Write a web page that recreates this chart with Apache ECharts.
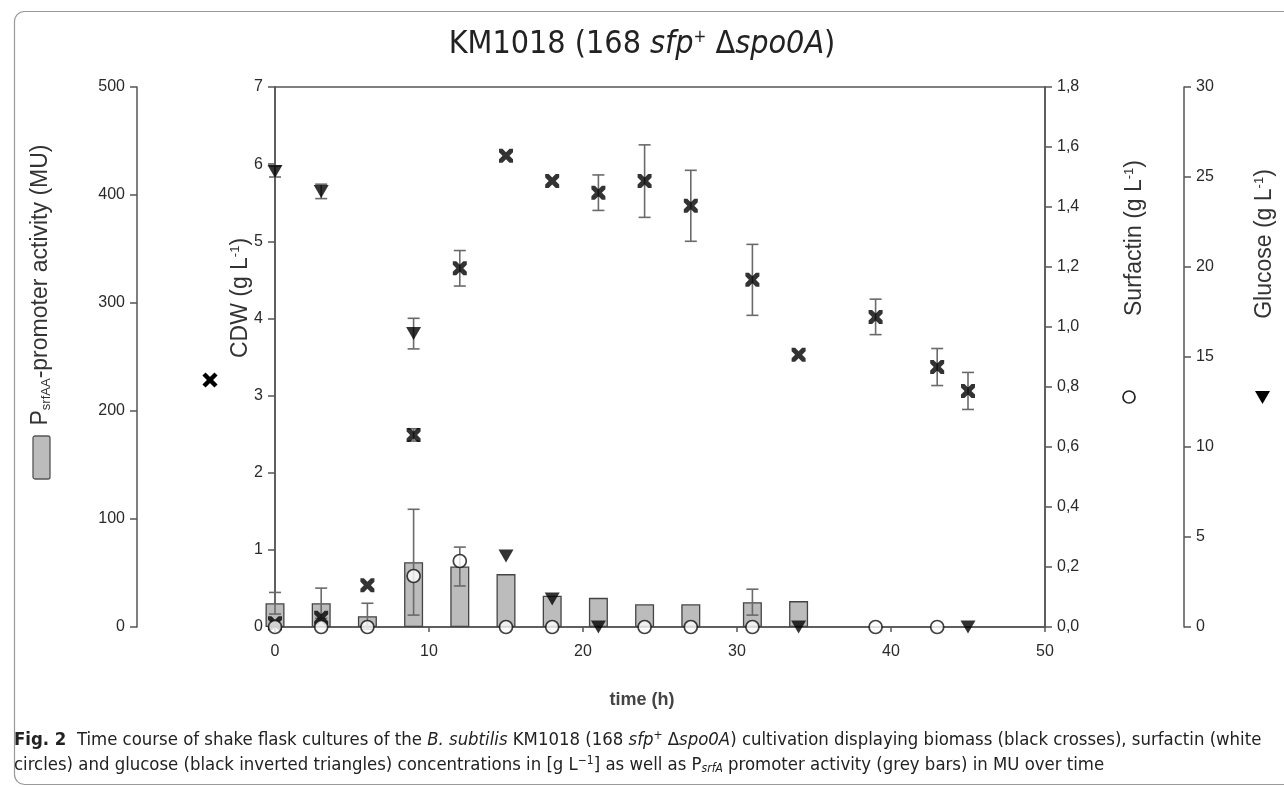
<!DOCTYPE html>
<html>
<head>
<meta charset="utf-8">
<script src="https://cdn.jsdelivr.net/npm/echarts@6/dist/echarts.min.js"></script>
<style>
  html, body { margin: 0; padding: 0; background: #fff; }
  #chart { width: 1284px; height: 787px; }
</style>
</head>
<body>
<div id="chart"></div>
<script>
// time axis ticks
var timeTicks = [0, 10, 20, 30, 40, 50];

// P_srfA promoter activity (MU), grey bars
var barTime = [0, 3, 6, 9, 12, 15, 18, 21, 24, 27, 31, 34];
var barMU   = [22, 22, 10, 60, 56, 49, 29, 27, 21, 21, 23, 24];
var barErr  = [10, 14, 12, 49, 18, 0, 0, 0, 0, 0, 12, 0];

// CDW (g/L), black crosses
var cdwTime = [0, 3, 6, 9, 12, 15, 18, 21, 24, 27, 31, 34, 39, 43, 45];
var cdwVal  = [0.05, 0.12, 0.54, 2.49, 4.65, 6.11, 5.78, 5.63, 5.78, 5.46, 4.50, 3.53, 4.02, 3.37, 3.06];
var cdwErr  = [0, 0, 0, 0.08, 0.23, 0, 0, 0.23, 0.47, 0.46, 0.46, 0, 0.23, 0.24, 0.24];

// glucose (g/L), black inverted triangles
var gluTime = [0, 3, 9, 15, 18, 21, 34, 45];
var gluVal  = [25.3, 24.2, 16.3, 3.95, 1.55, 0, 0, 0];
var gluErr  = [0.3, 0.4, 0.85, 0, 0, 0, 0, 0];

// surfactin (g/L), white circles
var surTime = [0, 3, 6, 9, 12, 15, 18, 24, 27, 31, 39, 43];
var surVal  = [0, 0, 0, 0.17, 0.22, 0, 0, 0, 0, 0, 0, 0];

function pairs(t, v) {
  var out = [];
  for (var i = 0; i < t.length; i++) out.push([t[i], v[i]]);
  return out;
}
function errs(t, v, e) {
  var out = [];
  for (var i = 0; i < t.length; i++) {
    if (e[i] > 0) out.push([t[i], v[i] - e[i], v[i] + e[i]]);
  }
  return out;
}
function errRender(params, api) {
  var x = api.value(0);
  var lo = api.coord([x, api.value(1)]);
  var hi = api.coord([x, api.value(2)]);
  var w = 6;
  var st = { stroke: '#6a6a6a', lineWidth: 1.6 };
  return {
    type: 'group',
    children: [
      { type: 'line', shape: { x1: lo[0], y1: lo[1], x2: hi[0], y2: hi[1] }, style: st },
      { type: 'line', shape: { x1: lo[0] - w, y1: lo[1], x2: lo[0] + w, y2: lo[1] }, style: st },
      { type: 'line', shape: { x1: hi[0] - w, y1: hi[1], x2: hi[0] + w, y2: hi[1] }, style: st }
    ]
  };
}

var crossPath = 'path://M0,0 L5,0 L10,5 L15,0 L20,0 L20,5 L15,10 L20,15 L20,20 L15,20 L10,15 L5,20 L0,20 L0,15 L5,10 L0,5 Z';
var sans = 'Liberation Sans, Arial, sans-serif';
var narrow = 'Liberation Sans Narrow, DejaVu Sans Condensed, sans-serif';
var labelStyle = { color: '#2a2a2a', fontSize: 16, fontFamily: sans };
var titleRich = {
  a: { fontFamily: sans, fontSize: 23, fill: '#333' },
  s: { fontFamily: sans, fontSize: 13, fill: '#333', padding: [0, 0, 12, 0] },
  b: { fontFamily: sans, fontSize: 13, fill: '#333', padding: [10, 0, 0, 0] }
};

function yAxisBase(pos, offset, min, max, interval, fmt) {
  return {
    type: 'value', position: pos, offset: offset,
    min: min, max: max, interval: interval,
    splitLine: { show: false },
    axisLine: { show: true, lineStyle: { color: '#555', width: 1.5 } },
    axisTick: { show: true, inside: false, length: 7, lineStyle: { color: '#555', width: 1.5 } },
    axisLabel: Object.assign({ margin: 12, formatter: fmt }, labelStyle)
  };
}

var chart = echarts.init(document.getElementById('chart'));
var option = {
  backgroundColor: '#fff',
  animation: false,
  title: {
    text: '{a|KM1018 (168 }{i|sfp}{s|+}{a| Δ}{i|spo0A}{a|)}',
    left: 'center', top: 24,
    textStyle: {
      rich: {
        a: { fontFamily: narrow, fontSize: 32, fontWeight: 'normal', color: '#222' },
        i: { fontFamily: narrow, fontSize: 32, fontWeight: 'normal', fontStyle: 'italic', color: '#222' },
        s: { fontFamily: narrow, fontSize: 17, fontWeight: 'normal', color: '#222', padding: [0, 0, 15, 0] }
      }
    }
  },
  grid: { left: 275, right: 239, top: 87, bottom: 160, show: true, borderColor: '#555', borderWidth: 1.5, backgroundColor: '#fff' },
  xAxis: {
    type: 'value', min: timeTicks[0], max: timeTicks[timeTicks.length - 1], interval: 10,
    splitLine: { show: false },
    axisLine: { show: true, onZero: false, lineStyle: { color: '#555', width: 1.5 } },
    axisTick: { show: true, length: 5, lineStyle: { color: '#555', width: 1.5 } },
    axisLabel: Object.assign({ margin: 17 }, labelStyle)
  },
  yAxis: [
    yAxisBase('left', 0, 0, 7, 1),
    yAxisBase('left', 138, 0, 500, 100),
    yAxisBase('right', 0, 0, 1.8, 0.2, function (v) { return v.toFixed(1).replace('.', ','); }),
    yAxisBase('right', 139, 0, 30, 5)
  ],
  series: [
    {
      type: 'bar', yAxisIndex: 1, barWidth: 19, z: 1, clip: true,
      data: pairs(barTime, barMU),
      itemStyle: { color: '#bcbcbc', borderColor: '#444', borderWidth: 1.3 }
    },
    { type: 'custom', yAxisIndex: 1, z: 2, renderItem: errRender, data: errs(barTime, barMU, barErr) },
    { type: 'custom', yAxisIndex: 0, z: 3, renderItem: errRender, data: errs(cdwTime, cdwVal, cdwErr) },
    { type: 'custom', yAxisIndex: 3, z: 3, renderItem: errRender, data: errs(gluTime, gluVal, gluErr) },
    {
      type: 'scatter', yAxisIndex: 0, z: 4, symbol: crossPath, symbolSize: 14,
      itemStyle: { color: '#000' }, data: pairs(cdwTime, cdwVal)
    },
    {
      type: 'scatter', yAxisIndex: 3, z: 5, symbol: 'triangle', symbolRotate: 180, symbolSize: [15, 13],
      itemStyle: { color: '#000' }, data: pairs(gluTime, gluVal)
    },
    {
      type: 'scatter', yAxisIndex: 2, z: 6, symbol: 'circle', symbolSize: 13,
      itemStyle: { color: '#fff', borderColor: '#111', borderWidth: 1.7 }, data: pairs(surTime, surVal)
    }
  ],
  graphic: [
    { type: 'rect', left: 12, top: 9, shape: { width: 1320, height: 773, r: 10 }, style: { fill: 'none', stroke: '#999', lineWidth: 1.2 }, z: -10 },
    // axis titles
    {
      type: 'text', x: 41, y: 285, rotation: Math.PI / 2,
      style: { text: '{a|P}{b|srfAA}{a|-promoter activity (MU)}', textAlign: 'center', textVerticalAlign: 'middle', rich: titleRich }
    },
    { type: 'rect', x: 33, y: 436, shape: { width: 17, height: 43, r: 2 }, style: { fill: '#bcbcbc', stroke: '#555', lineWidth: 1.3 } },
    {
      type: 'text', x: 241, y: 298, rotation: Math.PI / 2,
      style: { text: '{a|CDW (g L}{s|-1}{a|)}', textAlign: 'center', textVerticalAlign: 'middle', rich: titleRich }
    },
    { type: 'line', shape: { x1: 204, y1: 374, x2: 216, y2: 386 }, style: { stroke: '#000', lineWidth: 4.5 } },
    { type: 'line', shape: { x1: 216, y1: 374, x2: 204, y2: 386 }, style: { stroke: '#000', lineWidth: 4.5 } },
    {
      type: 'text', x: 1135, y: 238, rotation: Math.PI / 2,
      style: { text: '{a|Surfactin (g L}{s|-1}{a|)}', textAlign: 'center', textVerticalAlign: 'middle', rich: titleRich }
    },
    { type: 'circle', shape: { cx: 1129, cy: 397, r: 6 }, style: { fill: '#fff', stroke: '#222', lineWidth: 1.7 } },
    {
      type: 'text', x: 1265, y: 244, rotation: Math.PI / 2,
      style: { text: '{a|Glucose (g L}{s|-1}{a|)}', textAlign: 'center', textVerticalAlign: 'middle', rich: titleRich }
    },
    { type: 'polygon', shape: { points: [[1255, 391], [1270, 391], [1262.5, 404]] }, style: { fill: '#000' } },
    // x axis title
    {
      type: 'text', x: 642, y: 700,
      style: { text: 'time (h)', textAlign: 'center', textVerticalAlign: 'middle', font: 'bold 18px ' + sans, fill: '#444' }
    },
    // caption
    {
      type: 'text', x: 14, y: 740,
      style: {
        textVerticalAlign: 'middle',
        text: '{b|Fig. 2}{a|  Time course of shake flask cultures of the }{i|B. subtilis}{a| KM1018 (168 }{i|sfp}{s|+}{a| Δ}{i|spo0A}{a|) cultivation displaying biomass (black crosses), surfactin (white}',
        rich: {
          a: { fontFamily: narrow, fontSize: 18.4, fill: '#222' },
          b: { fontFamily: narrow, fontSize: 18.4, fontWeight: 'bold', fill: '#222' },
          i: { fontFamily: narrow, fontSize: 18.4, fontStyle: 'italic', fill: '#222' },
          s: { fontFamily: narrow, fontSize: 12, fill: '#222', padding: [0, 0, 9, 0] }
        }
      }
    },
    {
      type: 'text', x: 14, y: 765,
      style: {
        textVerticalAlign: 'middle',
        text: '{a|circles) and glucose (black inverted triangles) concentrations in [g L}{s|−1}{a|] as well as P}{u|srfA}{a| promoter activity (grey bars) in MU over time}',
        rich: {
          a: { fontFamily: narrow, fontSize: 18.4, fill: '#222' },
          s: { fontFamily: narrow, fontSize: 12, fill: '#222', padding: [0, 0, 9, 0] },
          u: { fontFamily: narrow, fontSize: 12, fontStyle: 'italic', fill: '#222', padding: [8, 0, 0, 0] }
        }
      }
    }
  ]
};
chart.setOption(option);
</script>
</body>
</html>
